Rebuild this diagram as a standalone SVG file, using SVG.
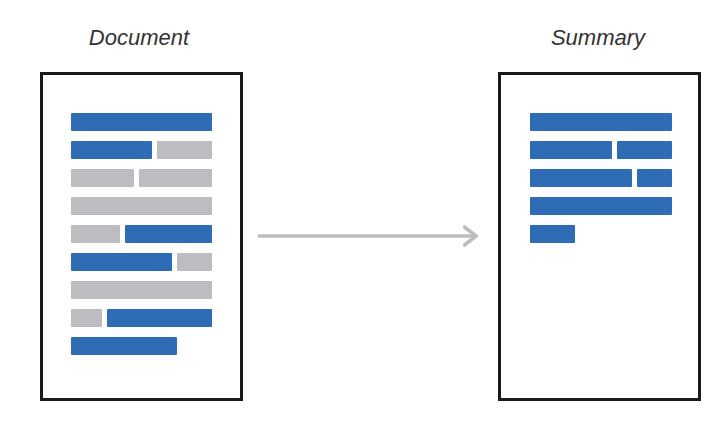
<svg xmlns="http://www.w3.org/2000/svg" width="726" height="424" viewBox="0 0 726 424">
  <style>
    .page { fill: #ffffff; stroke: #1a1a1a; stroke-width: 3; }
    .b { fill: #2e6db5; }
    .g { fill: #bdbdc1; }
    .title { font-family: "Liberation Sans", Arial, sans-serif; font-style: italic; font-size: 22px; fill: #333333; text-anchor: middle; }
  </style>
  <defs>
    <marker id="chev" markerUnits="userSpaceOnUse" markerWidth="20" markerHeight="24" refX="13" refY="10" orient="auto" viewBox="0 0 20 20">
      <path d="M1.5,1 L13,10 L1.5,19" fill="none" stroke="#bdbdc1" stroke-width="3.5" stroke-linecap="round" stroke-linejoin="round"/>
    </marker>
  </defs>
  <rect width="726" height="424" fill="#ffffff"/>

  <g id="document">
    <text class="title" x="139" y="45">Document</text>
    <rect class="page" x="41.5" y="73.5" width="200" height="326"/>
    <rect class="b" x="71" y="113" width="141" height="18" rx="1"/>
    <rect class="b" x="71" y="141" width="81" height="18" rx="1"/>
    <rect class="g" x="157" y="141" width="55" height="18" rx="1"/>
    <rect class="g" x="71" y="169" width="63" height="18" rx="1"/>
    <rect class="g" x="139" y="169" width="73" height="18" rx="1"/>
    <rect class="g" x="71" y="197" width="141" height="18" rx="1"/>
    <rect class="g" x="71" y="225" width="49" height="18" rx="1"/>
    <rect class="b" x="125" y="225" width="87" height="18" rx="1"/>
    <rect class="b" x="71" y="253" width="101" height="18" rx="1"/>
    <rect class="g" x="177" y="253" width="35" height="18" rx="1"/>
    <rect class="g" x="71" y="281" width="141" height="18" rx="1"/>
    <rect class="g" x="71" y="309" width="31" height="18" rx="1"/>
    <rect class="b" x="107" y="309" width="105" height="18" rx="1"/>
    <rect class="b" x="71" y="337" width="106" height="18" rx="1"/>
  </g>

  <g id="summary">
    <text class="title" x="598" y="45">Summary</text>
    <rect class="page" x="499.5" y="73.5" width="200" height="326"/>
    <rect class="b" x="530" y="113" width="142" height="18" rx="1"/>
    <rect class="b" x="530" y="141" width="82" height="18" rx="1"/>
    <rect class="b" x="617" y="141" width="55" height="18" rx="1"/>
    <rect class="b" x="530" y="169" width="102" height="18" rx="1"/>
    <rect class="b" x="637" y="169" width="35" height="18" rx="1"/>
    <rect class="b" x="530" y="197" width="142" height="18" rx="1"/>
    <rect class="b" x="530" y="225" width="45" height="18" rx="1"/>
  </g>

  <g id="connectors">
    <line x1="259" y1="236" x2="476" y2="236" stroke="#bdbdc1" stroke-width="3.5" stroke-linecap="round" marker-end="url(#chev)"/>
  </g>
</svg>
